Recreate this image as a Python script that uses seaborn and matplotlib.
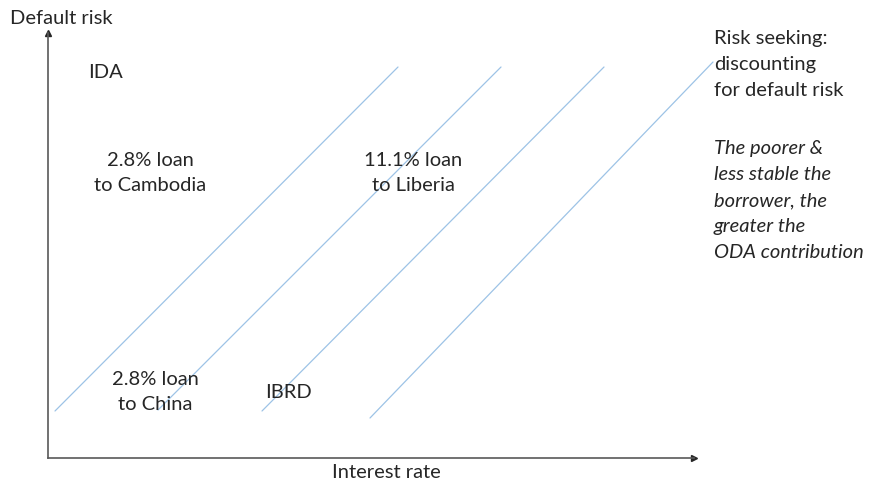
import pandas as pd
import matplotlib.pyplot as plt
import seaborn as sns

# Four iso-lines (start and end points, in chart units)
line_names = ["A", "B", "C", "D"]
x_start = [7, 110, 214, 322]
y_start = [47, 48, 47, 40]
x_end = [350, 453, 556, 665]
y_end = [391, 391, 391, 396]

# labels inside the chart: text, x, y
labels = ["IDA", "2.8% loan\nto Cambodia", "11.1% loan\nto Liberia", "2.8% loan\nto China", "IBRD"]
label_x = [40, 102, 365, 107, 217]
label_y = [386, 285, 285, 66, 66]

side_note = "Risk seeking:\ndiscounting\nfor default risk"
side_note_italic = "The poorer &\nless stable the\nborrower, the\ngreater the\nODA contribution"

rows = []
for name, xs, ys, xe, ye in zip(line_names, x_start, y_start, x_end, y_end):
    rows.append({"line": name, "x": xs, "y": ys})
    rows.append({"line": name, "x": xe, "y": ye})
df = pd.DataFrame(rows)

sns.set_theme(style="white")
plt.rcParams["font.family"] = ["Lato", "DejaVu Sans"]

fig = plt.figure(figsize=(8.74, 4.87), dpi=100)
ax = fig.add_axes([48 / 874, 29 / 487, 646 / 874, 425 / 487])

sns.lineplot(data=df, x="x", y="y", units="line", estimator=None,
             color="#9DC3E6", linewidth=0.9, ax=ax, clip_on=False)

ax.set_xlim(0, 646)
ax.set_ylim(0, 425)
ax.set_xticks([])
ax.set_yticks([])
ax.set_xlabel("")
ax.set_ylabel("")
for side in ["top", "right"]:
    ax.spines[side].set_visible(False)
for side in ["left", "bottom"]:
    ax.spines[side].set_color("#595959")
    ax.spines[side].set_linewidth(1.2)

# arrow heads on the axes
ax.plot(1, 0, ">", color="#262626", markersize=4, transform=ax.transAxes, clip_on=False)
ax.plot(0, 1, "^", color="#262626", markersize=4, transform=ax.transAxes, clip_on=False)

txt = dict(fontsize=14.5, color="#262626")
for lab, lx, ly in zip(labels, label_x, label_y):
    ax.text(lx, ly, lab, ha="center" if "\n" in lab else "left", va="center",
            linespacing=1.56, **txt)

ax.text(-38, 440, "Default risk", ha="left", va="center", clip_on=False, **txt)
ax.text(338, -15, "Interest rate", ha="center", va="center", clip_on=False, **txt)
ax.text(666, 428, side_note, ha="left", va="top", linespacing=1.64, clip_on=False, **txt)
ax.text(666, 318, side_note_italic, ha="left", va="top", linespacing=1.64,
        style="italic", clip_on=False, **txt)

plt.savefig("out.png", dpi=100)
